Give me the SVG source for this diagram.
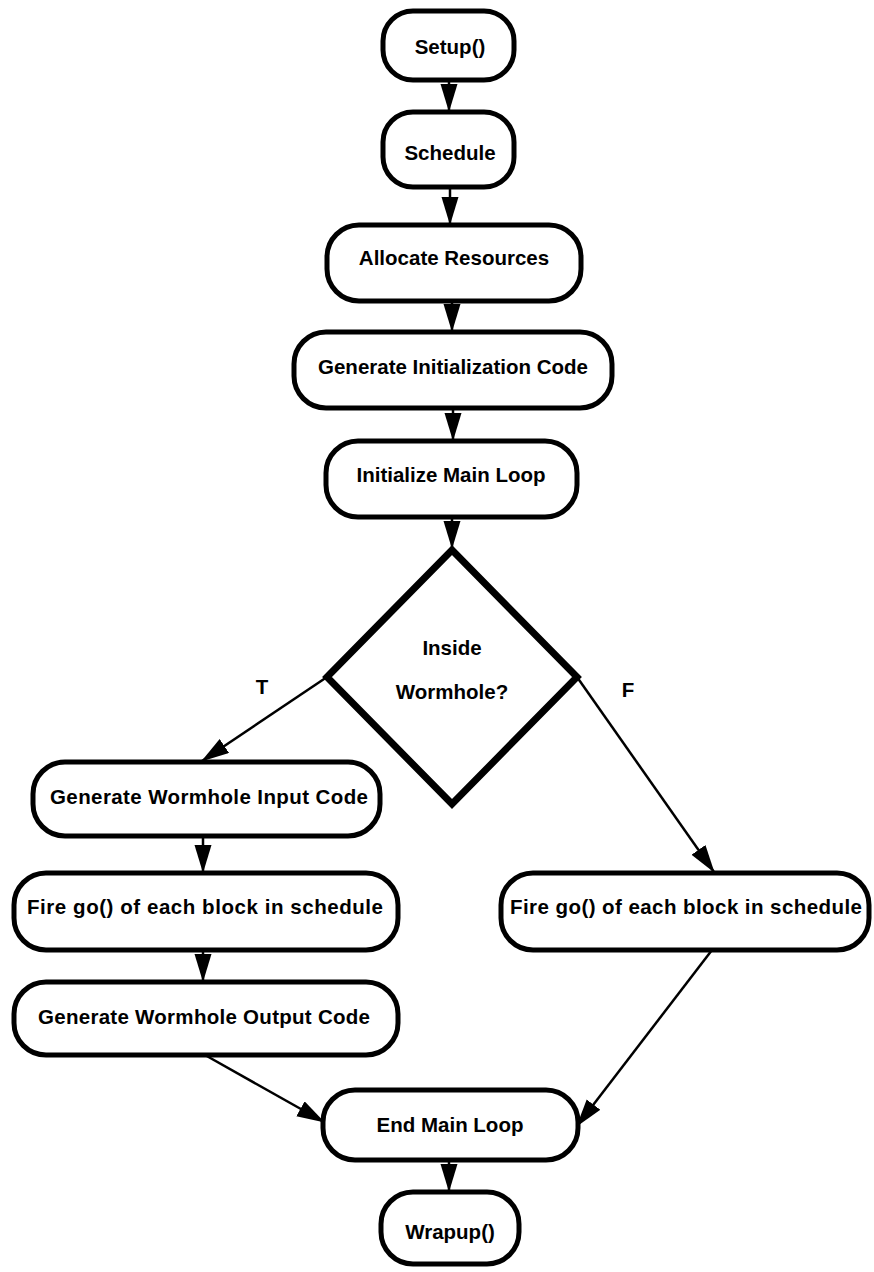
<svg xmlns="http://www.w3.org/2000/svg" width="874" height="1272" viewBox="0 0 874 1272">
<style>
.box{fill:#fff;stroke:#000;stroke-width:5}
.dia{fill:#fff;stroke:#000;stroke-width:7;stroke-linejoin:miter}
.lbl{font-family:"Liberation Sans",Arial,sans-serif;font-weight:bold;font-size:20.5px;fill:#000;text-anchor:middle}
.con{stroke:#000;stroke-width:2.5;fill:none;marker-end:url(#ah)}
</style>
<defs>
<marker id="ah" markerUnits="userSpaceOnUse" markerWidth="28" markerHeight="18" refX="27" refY="8.5" orient="auto">
<path d="M0,0 L28,8.5 L0,17 z" fill="#000"/>
</marker>
</defs>
<rect width="874" height="1272" fill="#fff"/>
<g id="connectors">
<line class="con" x1="449" y1="80" x2="449" y2="111"/>
<line class="con" x1="450" y1="187" x2="450" y2="224"/>
<line class="con" x1="452" y1="301" x2="452" y2="331"/>
<line class="con" x1="453" y1="408" x2="453" y2="440"/>
<line class="con" x1="452" y1="517" x2="452" y2="548"/>
<line class="con" x1="327" y1="677" x2="202" y2="761"/>
<line class="con" x1="577" y1="677" x2="714" y2="872"/>
<line class="con" x1="203" y1="836" x2="203" y2="872"/>
<line class="con" x1="203" y1="950" x2="203" y2="981"/>
<line class="con" x1="205" y1="1055" x2="324" y2="1122"/>
<line class="con" x1="712" y1="950" x2="577" y2="1126"/>
<line class="con" x1="449" y1="1160" x2="449" y2="1191"/>
</g>
<g id="setup"><rect class="box" x="383" y="11" width="131" height="69" rx="30"/><text class="lbl" x="450" y="54">Setup()</text></g>
<g id="schedule"><rect class="box" x="383" y="112" width="131" height="75" rx="30"/><text class="lbl" x="450" y="160">Schedule</text></g>
<g id="allocate"><rect class="box" x="327" y="225" width="254" height="76" rx="32"/><text class="lbl" x="454" y="265">Allocate Resources</text></g>
<g id="geninit"><rect class="box" x="294" y="332" width="318" height="76" rx="32"/><text class="lbl" x="453" y="374">Generate Initialization Code</text></g>
<g id="initmain"><rect class="box" x="326" y="441" width="251" height="76" rx="32"/><text class="lbl" x="451" y="482">Initialize Main Loop</text></g>
<g id="inside"><polygon class="dia" points="452,550 577,677 452,804 327,677"/><text class="lbl" x="452" y="655">Inside</text><text class="lbl" x="452" y="699">Wormhole?</text></g>
<g id="labelT"><text class="lbl" x="262" y="694">T</text></g>
<g id="labelF"><text class="lbl" x="628" y="697">F</text></g>
<g id="whinput"><rect class="box" x="33" y="762" width="347" height="74" rx="32"/><text class="lbl" x="209" y="804" textLength="318" lengthAdjust="spacing">Generate Wormhole Input Code</text></g>
<g id="fireleft"><rect class="box" x="14" y="873" width="384" height="77" rx="32"/><text class="lbl" x="205" y="914" textLength="356" lengthAdjust="spacing">Fire go() of each block in schedule</text></g>
<g id="whoutput"><rect class="box" x="14" y="982" width="384" height="73" rx="32"/><text class="lbl" x="204" y="1024" textLength="332" lengthAdjust="spacing">Generate Wormhole Output Code</text></g>
<g id="fireright"><rect class="box" x="501" y="873" width="368" height="77" rx="32"/><text class="lbl" x="686" y="914" textLength="352" lengthAdjust="spacing">Fire go() of each block in schedule</text></g>
<g id="endmain"><rect class="box" x="323" y="1090" width="255" height="70" rx="32"/><text class="lbl" x="450" y="1132">End Main Loop</text></g>
<g id="wrapup"><rect class="box" x="381" y="1192" width="138" height="72" rx="32"/><text class="lbl" x="450" y="1239">Wrapup()</text></g>
</svg>
